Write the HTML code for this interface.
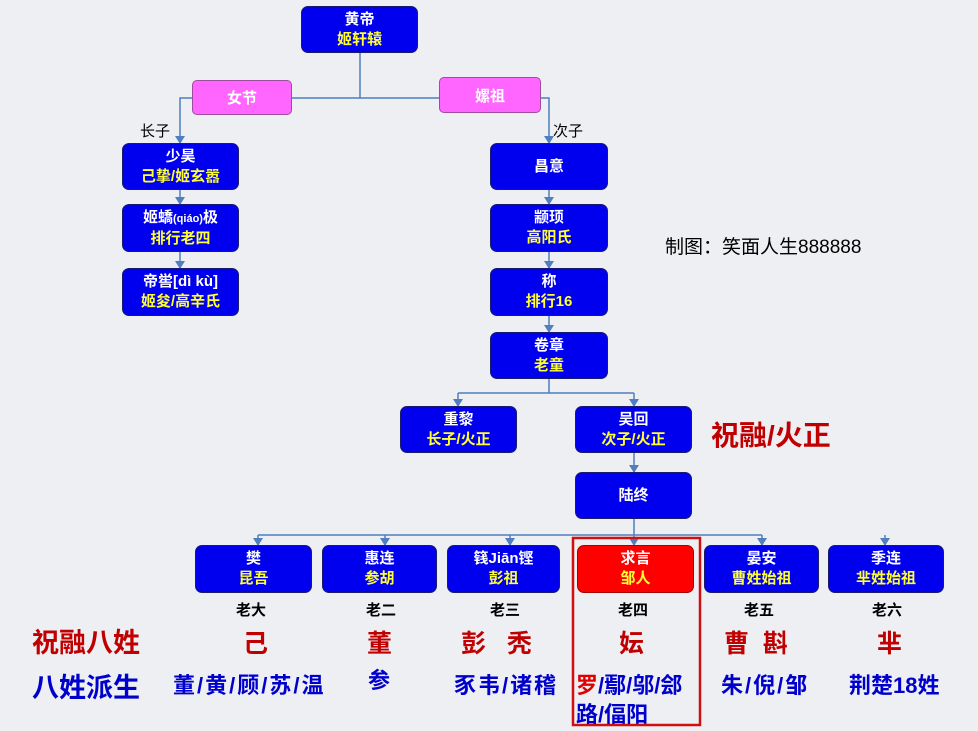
<!DOCTYPE html>
<html><head><meta charset="utf-8"><style>
body{margin:0;width:978px;height:731px;background:#eeeff3;position:relative;overflow:hidden;font-family:"Liberation Sans","Noto Sans CJK SC",sans-serif;}
.b{position:absolute;background:#0000ee;border:1px solid #1a1a6e;border-radius:7px;color:#fff;font-weight:bold;font-size:15px;text-align:center;line-height:20px;box-sizing:border-box;display:flex;flex-direction:column;justify-content:center;}
.b span{color:#ffff33;}
.p{position:absolute;background:#ff66ff;border:1px solid #a04aa0;border-radius:5px;color:#fff;font-weight:bold;font-size:15px;text-align:center;box-sizing:border-box;display:flex;align-items:center;justify-content:center;}
.t{position:absolute;font-weight:bold;white-space:nowrap;}
.r{font-size:22px;letter-spacing:2px;color:#0000cc;top:668px;}
svg{position:absolute;left:0;top:0;}
</style></head><body>
<svg width="978" height="731">
<defs>
<marker id="d" markerWidth="10" markerHeight="8" refX="5" refY="7" markerUnits="userSpaceOnUse"><path d="M0,0 L10,0 L5,8 z" fill="#4f7fbf"/></marker></defs>
<g stroke="#4f7fbf" stroke-width="1.5" fill="none">
<path d="M360 53 V98 M292 98 H439"/>
<path d="M192 98 H180 V143" marker-end="url(#d)"/>
<path d="M541 98 H549 V143" marker-end="url(#d)"/>
<path d="M180 190 V204" marker-end="url(#d)"/>
<path d="M180 252 V268" marker-end="url(#d)"/>
<path d="M549 190 V204" marker-end="url(#d)"/>
<path d="M549 252 V268" marker-end="url(#d)"/>
<path d="M549 316 V332" marker-end="url(#d)"/>
<path d="M549 379 V393 M458 393 H634"/>
<path d="M458 393 V406" marker-end="url(#d)"/>
<path d="M634 393 V406" marker-end="url(#d)"/>
<path d="M634 453 V472" marker-end="url(#d)"/>
<path d="M634 519 V535 M258 535 H762"/>
<path d="M258 535 V545" marker-end="url(#d)"/>
<path d="M385 535 V545" marker-end="url(#d)"/>
<path d="M510 535 V545" marker-end="url(#d)"/>
<path d="M634 535 V545" marker-end="url(#d)"/>
<path d="M762 535 V545" marker-end="url(#d)"/>
<path d="M885 535 V545" marker-end="url(#d)"/>
</g>
<rect x="573" y="538" width="127" height="187" fill="none" stroke="#d01010" stroke-width="2.5"/>
</svg>
<div class="b" style="left:301px;top:6px;width:117px;height:47px"><div>黄帝</div><span>姬轩辕</span></div>
<div class="p" style="left:192px;top:80px;width:100px;height:35px">女节</div>
<div class="p" style="left:439px;top:77px;width:102px;height:36px">嫘祖</div>
<div class="t" style="left:140px;top:120px;font-weight:normal;font-size:15px">长子</div>
<div class="t" style="left:553px;top:120px;font-weight:normal;font-size:15px">次子</div>
<div class="b" style="left:122px;top:143px;width:117px;height:47px"><div>少昊</div><span>己挚/姬玄嚣</span></div>
<div class="b" style="left:122px;top:204px;width:117px;height:48px"><div>姬蟜<small style="font-size:11px">(qiáo)</small>极</div><span>排行老四</span></div>
<div class="b" style="left:122px;top:268px;width:117px;height:48px"><div>帝喾[dì kù]</div><span>姬夋/高辛氏</span></div>
<div class="b" style="left:490px;top:143px;width:118px;height:47px"><div>昌意</div></div>
<div class="b" style="left:490px;top:204px;width:118px;height:48px"><div>颛顼</div><span>高阳氏</span></div>
<div class="b" style="left:490px;top:268px;width:118px;height:48px"><div>称</div><span>排行16</span></div>
<div class="b" style="left:490px;top:332px;width:118px;height:47px"><div>卷章</div><span>老童</span></div>
<div class="t" style="left:665px;top:232px;font-weight:normal;font-size:19px">制图：笑面人生888888</div>
<div class="b" style="left:400px;top:406px;width:117px;height:47px"><div>重黎</div><span>长子/火正</span></div>
<div class="b" style="left:575px;top:406px;width:117px;height:47px"><div>吴回</div><span>次子/火正</span></div>
<div class="t" style="left:711px;top:414px;font-size:28px;color:#c00000">祝融/火正</div>
<div class="b" style="left:575px;top:472px;width:117px;height:47px"><div>陆终</div></div>
<div class="b" style="left:195px;top:545px;width:117px;height:48px"><div>樊</div><span>昆吾</span></div>
<div class="b" style="left:322px;top:545px;width:115px;height:48px"><div>惠连</div><span>参胡</span></div>
<div class="b" style="left:447px;top:545px;width:113px;height:48px"><div>篯Jiān铿</div><span>彭祖</span></div>
<div class="b" style="left:577px;top:545px;width:117px;height:48px;background:#ff0000;border-color:#a00"><div>求言</div><span>邹人</span></div>
<div class="b" style="left:704px;top:545px;width:115px;height:48px"><div>晏安</div><span>曹姓始祖</span></div>
<div class="b" style="left:828px;top:545px;width:116px;height:48px"><div>季连</div><span>芈姓始祖</span></div>
<div class="t" style="left:236px;top:599px;font-size:15px">老大</div>
<div class="t" style="left:366px;top:599px;font-size:15px">老二</div>
<div class="t" style="left:490px;top:599px;font-size:15px">老三</div>
<div class="t" style="left:618px;top:599px;font-size:15px">老四</div>
<div class="t" style="left:744px;top:599px;font-size:15px">老五</div>
<div class="t" style="left:872px;top:599px;font-size:15px">老六</div>
<div class="t" style="left:32px;top:621px;font-size:27px;color:#c00000">祝融八姓</div>
<div class="t" style="left:243px;top:624px;font-size:25px;color:#c00000">己</div>
<div class="t" style="left:367px;top:624px;font-size:25px;color:#c00000">董</div>
<div class="t" style="left:461px;top:624px;font-size:25px;color:#c00000">彭&nbsp;&nbsp;&nbsp;秃</div>
<div class="t" style="left:619px;top:624px;font-size:25px;color:#c00000">妘</div>
<div class="t" style="left:724px;top:624px;font-size:25px;color:#c00000">曹&nbsp;&nbsp;斟</div>
<div class="t" style="left:877px;top:624px;font-size:25px;color:#c00000">芈</div>
<div class="t" style="left:32px;top:666px;font-size:27px;color:#0000cc">八姓派生</div>
<div class="t r" style="left:173px">董/黄/顾/苏/温</div>
<div class="t r" style="left:368px;top:663px">参</div>
<div class="t r" style="left:454px">豕韦/诸稽</div>
<div class="t r" style="left:576px;letter-spacing:0"><span style="color:#e00000">罗</span>/鄢/邬/郐</div>
<div class="t r" style="left:576px;top:697px;letter-spacing:0">路/偪阳</div>
<div class="t r" style="left:721px">朱/倪/邹</div>
<div class="t r" style="left:849px;letter-spacing:0">荆楚18姓</div>
</body></html>
